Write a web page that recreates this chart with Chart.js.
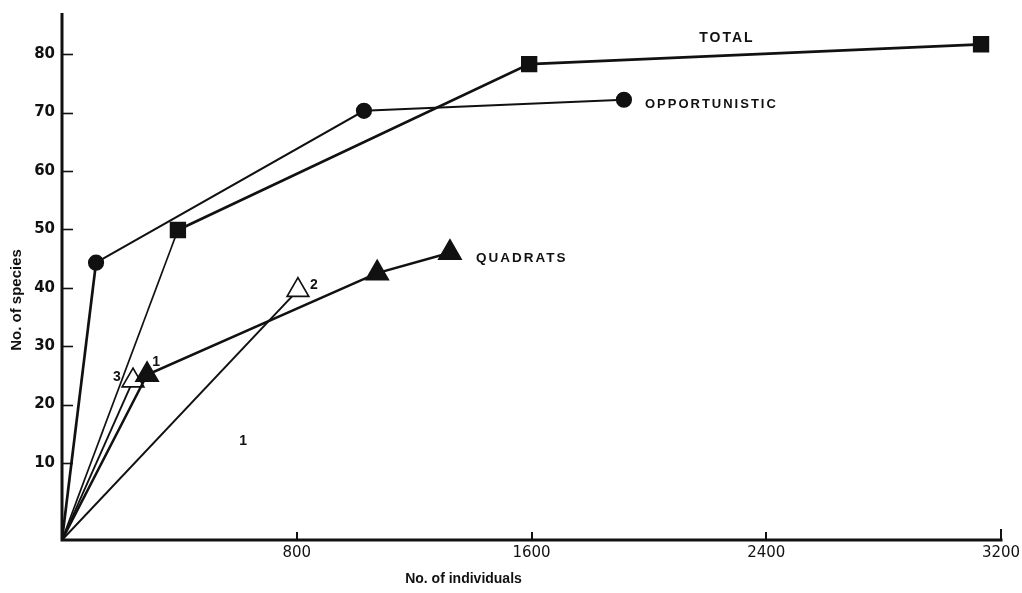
<!DOCTYPE html>
<html>
<head>
<meta charset="utf-8">
<script src="https://cdn.jsdelivr.net/npm/chart.js@4"></script>
<style>
  html, body { margin: 0; padding: 0; background: #fff; }
  #chart { display: block; }
</style>
</head>
<body>
<canvas id="chart" width="1022" height="593"></canvas>
<script>
// Species accumulation: number of species against number of individuals sampled.
// Every curve starts at the corner of the axes.

// Axis ranges and tick labels
const xTicks = [800, 1600, 2400, 3200];
const yTicks = [10, 20, 30, 40, 50, 60, 70, 80];
const xMin = 0, xMax = 3200;
const yMin = -3.2, yMax = 86.8;

// TOTAL (squares)
const totalIndividuals = [395, 1592, 3132];
const totalSpecies     = [49.9, 78.3, 81.7];

// OPPORTUNISTIC (circles)
const opportunisticIndividuals = [116, 1029, 1915];
const opportunisticSpecies     = [44.3, 70.3, 72.2];

// QUADRATS (filled triangles)
const quadratIndividuals = [290, 1074, 1322];
const quadratSpecies     = [25.1, 42.5, 46.0];

// Single quadrat sets 2 and 3 (open triangles)
const set2Individuals = [804];
const set2Species     = [39.6];
const set3Individuals = [242];
const set3Species     = [24.1];

const INK = '#111';

function curve(xs, ys) {
  const pts = [{ x: xMin, y: yMin }];
  xs.forEach((x, i) => pts.push({ x: x, y: ys[i] }));
  return pts;
}
function radii(n, r) { return [0].concat(new Array(n).fill(r)); }

const datasets = [
  {
    label: 'TOTAL',
    data: curve(totalIndividuals, totalSpecies),
    pointStyle: 'rect', pointRadius: radii(totalIndividuals.length, 10),
    borderWidth: 2.2,
    segment: { borderWidth: c => c.p0DataIndex === 0 ? 1.7 : 2.7 }
  },
  {
    label: 'OPPORTUNISTIC',
    data: curve(opportunisticIndividuals, opportunisticSpecies),
    pointStyle: 'circle', pointRadius: radii(opportunisticIndividuals.length, 7),
    borderWidth: 2.2,
    segment: { borderWidth: c => c.p0DataIndex === 0 ? 2.7 : 2.0 }
  },
  {
    label: 'QUADRATS',
    data: curve(quadratIndividuals, quadratSpecies),
    pointStyle: 'triangle', pointRadius: radii(quadratIndividuals.length, 12),
    borderWidth: 2.5
  },
  {
    label: '2',
    data: curve(set2Individuals, set2Species),
    pointStyle: 'triangle', pointRadius: radii(1, 12.5),
    pointBackgroundColor: '#fff', pointBorderWidth: 1.7,
    borderWidth: 2.0
  },
  {
    label: '3',
    data: curve(set3Individuals, set3Species),
    pointStyle: 'triangle', pointRadius: radii(1, 12.5),
    pointBackgroundColor: '#fff', pointBorderWidth: 1.7,
    borderWidth: 1.9
  }
].map(d => Object.assign({
  showLine: true,
  borderColor: INK,
  backgroundColor: INK,
  pointBackgroundColor: INK,
  pointBorderColor: INK,
  pointHoverRadius: 0,
  tension: 0
}, d));

// Text placed beside the curves (offsets in pixels from a data point)
const LABEL_FONT = '"Liberation Sans", Arial, sans-serif';
const curveLabels = [
  { text: 'TOTAL',         at: { x: 2266, y: 82.8 }, dx: 0,   dy: 0,   align: 'center', font: 'bold 14px ' + LABEL_FONT,   spacing: '2px' },
  { text: 'OPPORTUNISTIC', ds: 1, idx: 3,            dx: 21,  dy: 5,   align: 'left',   font: 'bold 13px ' + LABEL_FONT,   spacing: '2px' },
  { text: 'QUADRATS',      ds: 2, idx: 3,            dx: 26,  dy: 6,   align: 'left',   font: 'bold 13.5px ' + LABEL_FONT, spacing: '2px' },
  { text: '1',             ds: 2, idx: 1,            dx: 9,   dy: -13, align: 'center', font: 'bold 14px ' + LABEL_FONT,   spacing: '0px' },
  { text: '2',             ds: 3, idx: 1,            dx: 16,  dy: -5,  align: 'center', font: 'bold 14px ' + LABEL_FONT,   spacing: '0px' },
  { text: '3',             ds: 4, idx: 1,            dx: -16, dy: -3,  align: 'center', font: 'bold 14px ' + LABEL_FONT,   spacing: '0px' },
  { text: '1',             at: { x: 617, y: 13.8 },  dx: 0,   dy: 0,   align: 'center', font: 'bold 14px ' + LABEL_FONT,   spacing: '0px' }
];

// Heavy axis lines with inward tick marks, axis titles and curve labels
const axesAndLabels = {
  id: 'axesAndLabels',
  afterDatasetsDraw(chart) {
    const { ctx, chartArea: a, scales: { x, y } } = chart;
    ctx.save();
    ctx.strokeStyle = INK;
    ctx.fillStyle = INK;
    ctx.lineCap = 'square';

    ctx.lineWidth = 3;
    ctx.beginPath();
    ctx.moveTo(a.left, a.top);
    ctx.lineTo(a.left, a.bottom);
    ctx.lineTo(a.right, a.bottom);
    ctx.stroke();

    ctx.lineWidth = 1.6;
    ctx.lineCap = 'butt';
    yTicks.forEach(v => {
      const py = Math.round(y.getPixelForValue(v)) + 0.5;
      ctx.beginPath();
      ctx.moveTo(a.left, py);
      ctx.lineTo(a.left + 11, py);
      ctx.stroke();
    });
    ctx.lineWidth = 2;
    xTicks.forEach(v => {
      const px = Math.round(x.getPixelForValue(v));
      ctx.beginPath();
      ctx.moveTo(px, a.bottom);
      ctx.lineTo(px, a.bottom - (v === xMax ? 11 : 8));
      ctx.stroke();
    });

    // axis titles
    ctx.textAlign = 'center';
    ctx.textBaseline = 'middle';
    ctx.font = 'bold 14px ' + LABEL_FONT;
    ctx.fillText('No. of individuals', (a.left + a.right) / 2 - 68, 579);
    ctx.save();
    ctx.translate(17, 300);
    ctx.rotate(-Math.PI / 2);
    ctx.font = 'bold 15px ' + LABEL_FONT;
    ctx.fillText('No. of species', 0, 0);
    ctx.restore();

    curveLabels.forEach(l => {
      let px, py;
      if (l.at) {
        px = x.getPixelForValue(l.at.x);
        py = y.getPixelForValue(l.at.y);
      } else {
        const el = chart.getDatasetMeta(l.ds).data[l.idx];
        px = el.x; py = el.y;
      }
      ctx.font = l.font;
      ctx.letterSpacing = l.spacing;
      ctx.textAlign = l.align;
      ctx.textBaseline = 'middle';
      ctx.fillText(l.text, px + l.dx, py + l.dy);
    });
    ctx.restore();
  }
};

new Chart(document.getElementById('chart'), {
  type: 'scatter',
  data: { datasets },
  options: {
    responsive: false,
    devicePixelRatio: 1,
    animation: false,
    events: [],
    layout: { padding: { left: 0, right: 21, top: 8, bottom: 0 } },
    plugins: { legend: { display: false }, tooltip: { enabled: false } },
    scales: {
      x: {
        type: 'linear', min: xMin, max: xMax,
        afterBuildTicks: s => { s.ticks = xTicks.map(v => ({ value: v })); },
        afterFit: s => { s.height = 53; s.paddingLeft = 0; s.paddingRight = 0; },
        grid: { display: false, drawTicks: false },
        border: { display: false },
        ticks: {
          padding: 4, color: INK, maxRotation: 0,
          font: { family: '"DejaVu Sans", sans-serif', size: 15 },
          callback: v => String(v)
        }
      },
      y: {
        type: 'linear', min: yMin, max: yMax,
        afterBuildTicks: s => { s.ticks = yTicks.map(v => ({ value: v })); },
        afterFit: s => { s.width = 62; s.paddingTop = 0; s.paddingBottom = 0; },
        grid: { display: false, drawTicks: false },
        border: { display: false },
        ticks: {
          padding: 7, color: INK,
          font: { family: '"DejaVu Sans", sans-serif', size: 15, weight: 'bold' },
          callback: v => String(v)
        }
      }
    }
  },
  plugins: [axesAndLabels]
});
</script>
</body>
</html>
